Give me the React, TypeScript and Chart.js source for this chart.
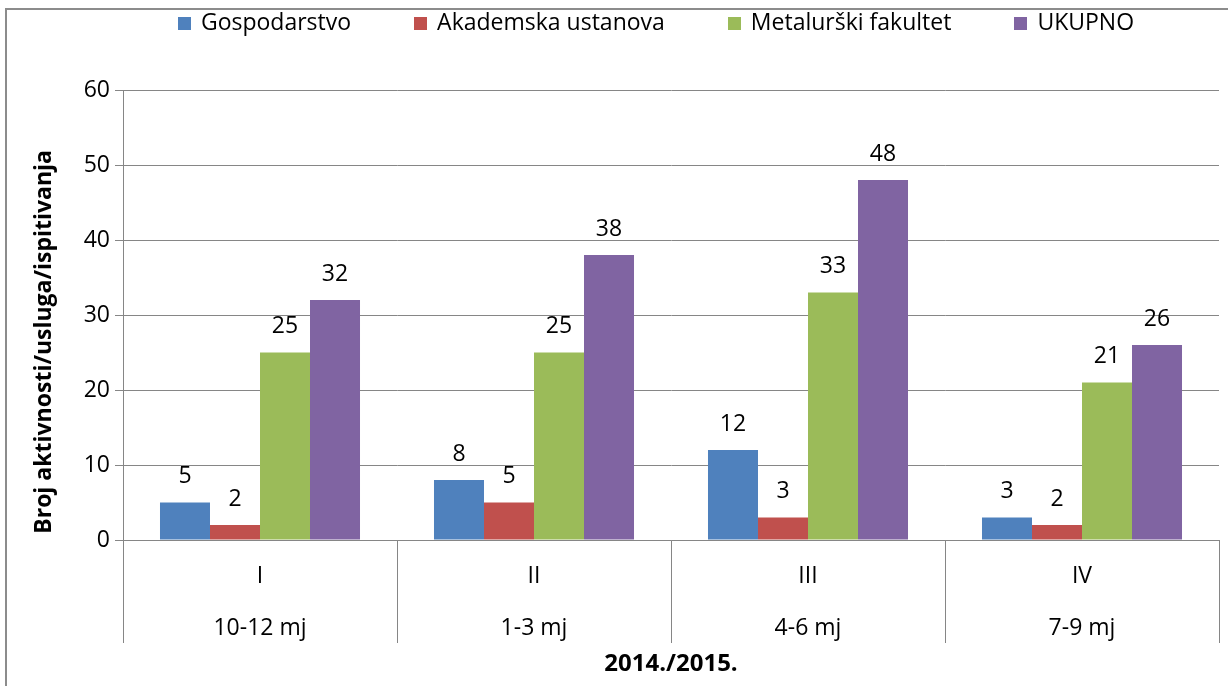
import React, { useEffect, useRef } from "react";
import { Chart, registerables } from "chart.js";

Chart.register(...registerables);

// ---- data ----
const quarters = ["I", "II", "III", "IV"];
const months = ["10-12 mj", "1-3 mj", "4-6 mj", "7-9 mj"];
const seriesNames = ["Gospodarstvo", "Akademska ustanova", "Metalurški fakultet", "UKUPNO"];
const gospodarstvo = [5, 8, 12, 3];
const akademska = [2, 5, 3, 2];
const metalurski = [25, 25, 33, 21];
const ukupno = [32, 38, 48, 26];
const seriesColors = ["#4F81BD", "#C0504D", "#9BBB59", "#8064A2"];
const yTicks = [0, 10, 20, 30, 40, 50, 60];
const yTitle = "Broj aktivnosti/usluga/ispitivanja";
const xTitle = "2014./2015.";

const FONT = "'Open Sans', 'Noto Sans', sans-serif";
const GRID = "#868686";

const legendPlugin = {
  id: "customLegend",
  afterDraw(chart: any) {
    const ctx = chart.ctx;
    ctx.save();
    ctx.font = `23px ${FONT}`;
    const box = 13;
    const gapBox = 10;
    const gapItem = 63;
    const items = chart.data.datasets.map((ds: any) => ({
      label: ds.label,
      color: ds.backgroundColor,
      w: ctx.measureText(ds.label).width,
    }));
    const total =
      items.reduce((s: number, it: any) => s + box + gapBox + it.w, 0) + gapItem * (items.length - 1);
    let x = 656 - total / 2;
    const y = 23;
    ctx.textBaseline = "middle";
    ctx.textAlign = "left";
    items.forEach((it: any) => {
      ctx.fillStyle = it.color;
      ctx.fillRect(Math.round(x), Math.round(y - box / 2), box, box);
      x += box + gapBox;
      ctx.fillStyle = "#000";
      ctx.fillText(it.label, x, y);
      x += it.w + gapItem;
    });
    ctx.restore();
  },
};

const valueLabelPlugin = {
  id: "valueLabels",
  afterDatasetsDraw(chart: any) {
    const ctx = chart.ctx;
    ctx.save();
    ctx.font = `23px ${FONT}`;
    ctx.fillStyle = "#000";
    ctx.textAlign = "center";
    ctx.textBaseline = "middle";
    chart.data.datasets.forEach((ds: any, i: number) => {
      const meta = chart.getDatasetMeta(i);
      meta.data.forEach((el: any, j: number) => {
        ctx.fillText(String(ds.data[j]), el.x, el.y - 26);
      });
    });
    ctx.restore();
  },
};

export default function App() {
  const ref = useRef<HTMLCanvasElement | null>(null);

  useEffect(() => {
    if (!ref.current) return;
    const values = [gospodarstvo, akademska, metalurski, ukupno];
    const chart = new Chart(ref.current, {
      type: "bar",
      data: {
        labels: quarters.map((q, i) => [q, months[i]]),
        datasets: seriesNames.map((name, i) => ({
          label: name,
          data: values[i],
          backgroundColor: seriesColors[i],
          borderWidth: 0,
          categoryPercentage: 0.73,
          barPercentage: 1,
        })),
      },
      options: {
        responsive: false,
        animation: false,
        layout: { padding: { left: 0, right: 9, top: 90, bottom: 0 } },
        plugins: {
          legend: { display: false },
          tooltip: { enabled: false },
          title: { display: false },
        },
        scales: {
          x: {
            grid: {
              display: true,
              drawOnChartArea: false,
              drawTicks: true,
              tickLength: 103,
              color: GRID,
              lineWidth: 1,
              offset: true,
            },
            border: { display: true, color: GRID, width: 1 },
            ticks: {
              autoSkip: false,
              maxRotation: 0,
              minRotation: 0,
              padding: -93,
              color: "#000",
              font: { family: FONT, size: 23, lineHeight: 52 / 23 },
            },
            title: {
              display: true,
              text: xTitle,
              color: "#000",
              font: { family: FONT, size: 24, weight: "bold" },
              padding: { top: 0, bottom: 7 },
            },
            afterFit: (s: any) => {
              s.height = 146;
            },
          },
          y: {
            min: 0,
            max: 60,
            afterBuildTicks: (s: any) => {
              s.ticks = yTicks.map((v) => ({ value: v }));
            },
            ticks: {
              padding: 5,
              color: "#000",
              font: { family: FONT, size: 23 },
            },
            grid: { color: GRID, tickLength: 8, lineWidth: 1 },
            border: { display: true, color: GRID, width: 1 },
            title: {
              display: true,
              text: yTitle + "         ",
              color: "#000",
              font: { family: FONT, size: 23, weight: "bold" },
              padding: { top: 31, bottom: 0 },
            },
            afterFit: (s: any) => {
              s.width = 123;
            },
          },
        },
      },
      plugins: [legendPlugin, valueLabelPlugin],
    } as any);
    return () => chart.destroy();
  }, []);

  return (
    <div style={{ position: "fixed", left: 0, top: 0, width: 1228, height: 686, overflow: "hidden", background: "#fff" }}>
      <div
        style={{
          position: "absolute",
          left: 5,
          top: 8,
          width: 1300,
          height: 800,
          borderLeft: "2px solid #8c8c8c",
          borderTop: "2px solid #8c8c8c",
        }}
      />
      <canvas
        ref={ref}
        width={1228}
        height={686}
        style={{ position: "absolute", left: 0, top: 0, display: "block" }}
      />
    </div>
  );
}
